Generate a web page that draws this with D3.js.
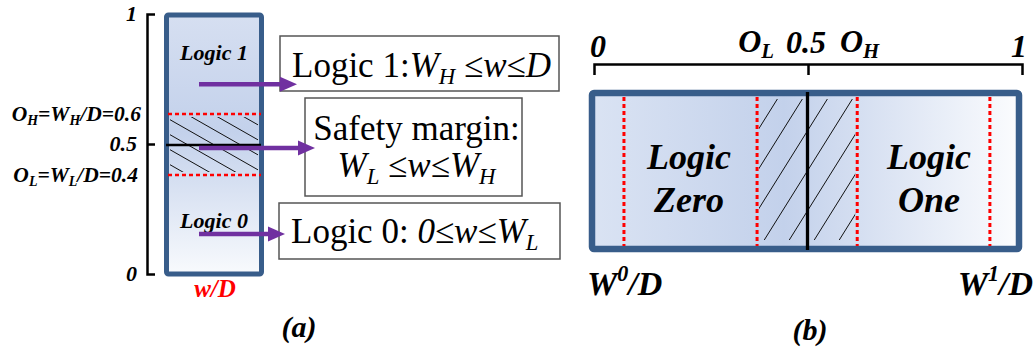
<!DOCTYPE html>
<html><head><meta charset="utf-8">
<script src="https://cdn.jsdelivr.net/npm/d3@7"></script>
<style>html,body{margin:0;padding:0;background:#fff;}svg{display:block;}</style>
</head><body>
<svg id="c" width="1035" height="351"></svg>
<script>
// ---------- data ----------
const axisTicks = [0, 0.5, 1];
const thresholds = [0.381, 0.615];          // O_L , O_H (drawn positions)
const centerValue = 0.5;
const logicRefs = [0.07, 0.925];            // W0/D , W1/D
const tickLabelsA = ["0", "0.5", "1"];
const arrowValues = [0.73, 0.485, 0.154];   // arrow heights in panel (a)
const arrowTips = [297, 315, 285];
const regionLabelsA = [{t: "Logic 1", v: 0.85}, {t: "Logic 0", v: 0.204}];
const boxTexts = [
  [[{t: "Logic 1:"}, {t: "W", i: 1}, {t: "H", i: 1, sub: 1}, {t: " ≤"}, {t: "w", i: 1}, {t: "≤"}, {t: "D", i: 1}]],
  [[{t: "Safety margin:"}], [{t: "W", i: 1}, {t: "L", i: 1, sub: 1}, {t: " ≤"}, {t: "w", i: 1}, {t: "≤"}, {t: "W", i: 1}, {t: "H", i: 1, sub: 1}]],
  [[{t: "Logic 0: "}, {t: "0", i: 1}, {t: "≤"}, {t: "w", i: 1}, {t: "≤"}, {t: "W", i: 1}, {t: "L", i: 1, sub: 1}]]
];

const svg = d3.select("#c");
const SERIF = "'Liberation Serif','Times New Roman',serif";
const OUT = "#385d8a", PURPLE = "#7030a0", RED = "#ff0000";

function rich(text, parts, fs) {
  let cur = 0;
  parts.forEach(p => {
    const want = p.sub ? fs * 0.2 : (p.sup ? -fs * 0.4 : 0);
    const ts = text.append("tspan").text(p.t)
      .attr("font-style", p.i ? "italic" : null)
      .attr("font-size", (p.sub || p.sup) ? fs * 0.65 : fs);
    if (want !== cur) ts.attr("dy", want - cur);
    cur = want;
  });
  return text;
}

const defs = svg.append("defs");
const gA = defs.append("linearGradient").attr("id", "gradA").attr("x1", 0).attr("y1", 0).attr("x2", 0).attr("y2", 1);
[[0, "#d6dff1"], [0.45, "#c3d1eb"], [1, "#f8fafd"]].forEach(s => gA.append("stop").attr("offset", s[0]).attr("stop-color", s[1]));
const gB = defs.append("linearGradient").attr("id", "gradB").attr("x1", 0).attr("y1", 0).attr("x2", 1).attr("y2", 0);
[[0, "#dae3f3"], [0.45, "#c3d1eb"], [1, "#fbfcfe"]].forEach(s => gB.append("stop").attr("offset", s[0]).attr("stop-color", s[1]));

// ---------- panel (a) ----------
const yA = d3.scaleLinear().domain([0, 1]).range([274, 14]);
const rectAx0 = 166.5, rectAx1 = 261.5;

svg.append("g").attr("transform", "translate(147,0)")
  .call(d3.axisRight(yA).tickValues([centerValue]).tickSize(8).tickFormat(""))
  .call(g => g.selectAll("path,line").attr("stroke", "#000").attr("stroke-width", 2.5));

svg.append("rect").attr("x", rectAx0).attr("y", yA(1) + 1).attr("width", rectAx1 - rectAx0)
  .attr("height", yA(0) - yA(1) - 1).attr("rx", 2)
  .attr("fill", "url(#gradA)").attr("stroke", OUT).attr("stroke-width", 5);

// hatch (a)
defs.append("clipPath").attr("id", "clipA").append("rect")
  .attr("x", 170).attr("y", yA(thresholds[1]) + 3).attr("width", 88).attr("height", yA(thresholds[0]) - yA(thresholds[1]) - 6);
const hA = svg.append("g").attr("clip-path", "url(#clipA)");
d3.range(-6, 6).forEach(k => {
  const y0 = yA(centerValue) + k * 15;
  hA.append("line").attr("x1", 160).attr("y1", y0 - 30).attr("x2", 270).attr("y2", y0 - 30 + 110 * 0.57)
    .attr("stroke", "#111").attr("stroke-width", 1);
});

thresholds.forEach(t => svg.append("line").attr("x1", 168).attr("x2", 261).attr("y1", yA(t)).attr("y2", yA(t))
  .attr("stroke", RED).attr("stroke-width", 2.5).attr("stroke-dasharray", "4,3"));
svg.append("line").attr("x1", 166).attr("x2", 261).attr("y1", yA(centerValue) + 1).attr("y2", yA(centerValue) + 1)
  .attr("stroke", "#000").attr("stroke-width", 2.5);

// left labels
const leftLbl = svg.append("g").attr("font-family", SERIF).attr("font-weight", "bold").attr("font-style", "italic")
  .attr("text-anchor", "end");
axisTicks.forEach((v, i) => leftLbl.append("text").attr("x", 137).attr("y", yA(v) + 7).attr("font-size", 22).text(tickLabelsA[i]));
rich(leftLbl.append("text").attr("x", 141).attr("y", yA(thresholds[1]) + 7).attr("font-size", 21.5),
  [{t: "O"}, {t: "H", sub: 1}, {t: "=W"}, {t: "H", sub: 1}, {t: "/D=0.6"}], 21.5);
rich(leftLbl.append("text").attr("x", 138).attr("y", yA(thresholds[0]) + 7).attr("font-size", 21.5),
  [{t: "O"}, {t: "L", sub: 1}, {t: "=W"}, {t: "L", sub: 1}, {t: "/D=0.4"}], 21.5);

regionLabelsA.forEach(r => svg.append("text").attr("x", 214).attr("y", yA(r.v) + 7)
  .attr("font-family", SERIF).attr("font-weight", "bold").attr("font-style", "italic").attr("font-size", 22)
  .attr("text-anchor", "middle").text(r.t));
svg.append("text").attr("x", 215).attr("y", 297).attr("font-family", SERIF).attr("font-weight", "bold")
  .attr("font-style", "italic").attr("font-size", 25).attr("fill", RED).attr("text-anchor", "middle").text("w/D");

// boxes
const boxes = [{x0: 280, y0: 36, x1: 559, y1: 91}, {x0: 305, y0: 98, x1: 522, y1: 196}, {x0: 279, y0: 203, x1: 560, y1: 259}];
const boxBase = [[77], [140, 177], [243]];
boxes.forEach((b, i) => {
  svg.append("rect").attr("x", b.x0).attr("y", b.y0).attr("width", b.x1 - b.x0).attr("height", b.y1 - b.y0)
    .attr("fill", "#fff").attr("stroke", "#555").attr("stroke-width", 1.5);
  boxTexts[i].forEach((line, j) => {
    const t = svg.append("text").attr("font-family", SERIF).attr("font-size", 35).attr("fill", "#000")
      .attr("y", boxBase[i][j]);
    if (i === 1) t.attr("x", (b.x0 + b.x1) / 2 + 3).attr("text-anchor", "middle");
    else t.attr("x", b.x0 + 12);
    rich(t, line, 35);
  });
});

// arrows
arrowValues.forEach((v, i) => {
  const y = yA(v), tip = arrowTips[i], hl = 17, hw = 7.5;
  svg.append("line").attr("x1", 199).attr("x2", tip - hl + 2).attr("y1", y).attr("y2", y)
    .attr("stroke", PURPLE).attr("stroke-width", 4.5);
  svg.append("path").attr("d", `M${tip},${y}L${tip - hl},${y - hw}L${tip - hl},${y + hw}Z`).attr("fill", PURPLE);
});

svg.append("text").attr("x", 299).attr("y", 337).attr("font-family", SERIF).attr("font-weight", "bold")
  .attr("font-style", "italic").attr("font-size", 30).attr("text-anchor", "middle").text("(a)");

// ---------- panel (b) ----------
const xB = d3.scaleLinear().domain([0, 1]).range([594, 1022]);
svg.append("g").attr("transform", "translate(0,64)")
  .call(d3.axisBottom(xB).tickValues([centerValue]).tickSize(11).tickFormat(""))
  .call(g => g.selectAll("path,line").attr("stroke", "#000").attr("stroke-width", 2.5));

const topLbl = svg.append("g").attr("font-family", SERIF).attr("font-weight", "bold").attr("font-style", "italic").attr("font-size", 32);
topLbl.append("text").attr("x", xB(0) + 4).attr("y", 57).attr("text-anchor", "middle").text("0");
topLbl.append("text").attr("x", xB(1) - 3).attr("y", 57).attr("text-anchor", "middle").text("1");
topLbl.append("text").attr("x", xB(centerValue) - 2).attr("y", 53).attr("text-anchor", "middle").text("0.5");
rich(topLbl.append("text").attr("x", 774).attr("y", 52).attr("text-anchor", "end"), [{t: "O"}, {t: "L", sub: 1}], 32);
rich(topLbl.append("text").attr("x", 840).attr("y", 52).attr("text-anchor", "start"), [{t: "O"}, {t: "H", sub: 1}], 32);

svg.append("rect").attr("x", xB(0) - 2).attr("y", 93).attr("width", xB(1) - xB(0) - 1).attr("height", 156).attr("rx", 2)
  .attr("fill", "url(#gradB)").attr("stroke", OUT).attr("stroke-width", 6.5);

// hatch (b)
defs.append("clipPath").attr("id", "clipB").append("rect")
  .attr("x", xB(thresholds[0]) + 2).attr("y", 99).attr("width", xB(thresholds[1]) - xB(thresholds[0]) - 4).attr("height", 141);
const hB = svg.append("g").attr("clip-path", "url(#clipB)");
d3.range(-8, 8).forEach(k => {
  const x0 = xB(centerValue) + k * 25;
  hB.append("line").attr("x1", x0 - 50).attr("y1", 250).attr("x2", x0 - 50 + 160 / 1.6).attr("y2", 90)
    .attr("stroke", "#111").attr("stroke-width", 1);
});

thresholds.concat(logicRefs).forEach(v => svg.append("line").attr("x1", xB(v)).attr("x2", xB(v)).attr("y1", 97).attr("y2", 246)
  .attr("stroke", RED).attr("stroke-width", 3).attr("stroke-dasharray", "4,3"));
svg.append("line").attr("x1", xB(centerValue) - 0.5).attr("x2", xB(centerValue) - 0.5).attr("y1", 92).attr("y2", 250)
  .attr("stroke", "#000").attr("stroke-width", 3.3);

const inLbl = svg.append("g").attr("font-family", SERIF).attr("font-weight", "bold").attr("font-style", "italic")
  .attr("font-size", 36).attr("text-anchor", "middle");
[["Logic", "Zero", 689], ["Logic", "One", 929]].forEach(d => {
  inLbl.append("text").attr("x", d[2]).attr("y", 169).text(d[0]);
  inLbl.append("text").attr("x", d[2]).attr("y", 212).text(d[1]);
});

const botLbl = svg.append("g").attr("font-family", SERIF).attr("font-weight", "bold").attr("font-style", "italic").attr("font-size", 34);
rich(botLbl.append("text").attr("x", 587).attr("y", 295), [{t: "W"}, {t: "0", sup: 1}, {t: "/D"}], 34);
rich(botLbl.append("text").attr("x", 1033).attr("y", 295).attr("text-anchor", "end"), [{t: "W"}, {t: "1", sup: 1}, {t: "/D"}], 34);

svg.append("text").attr("x", 810).attr("y", 340).attr("font-family", SERIF).attr("font-weight", "bold")
  .attr("font-style", "italic").attr("font-size", 30).attr("text-anchor", "middle").text("(b)");
</script>
</body></html>
